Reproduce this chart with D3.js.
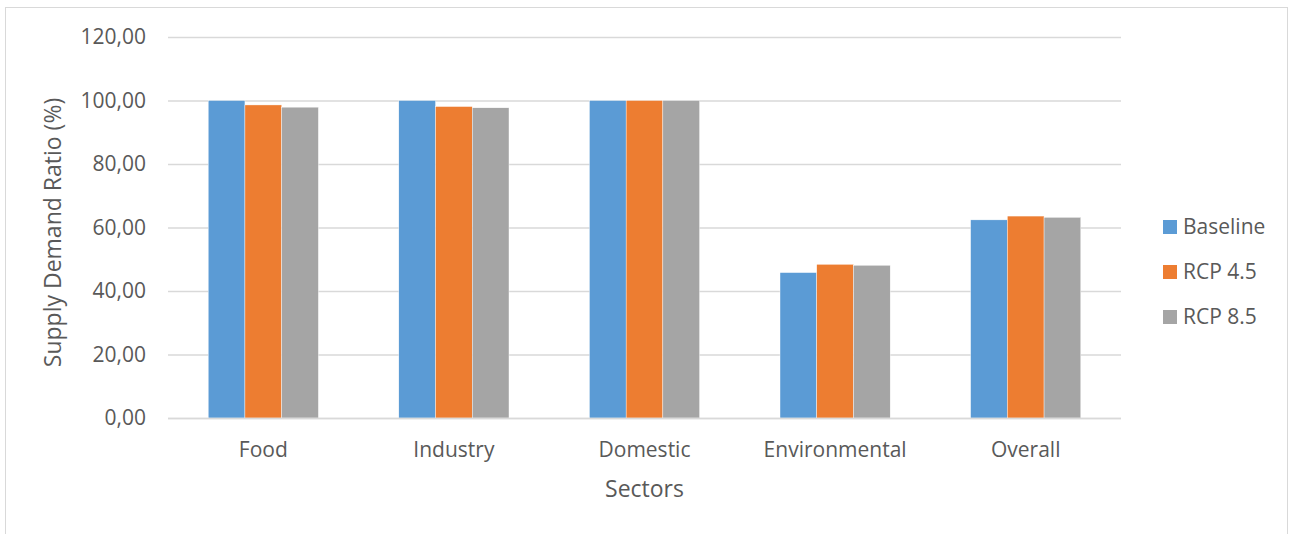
<!DOCTYPE html>
<html>
<head>
<meta charset="utf-8">
<script src="https://cdn.jsdelivr.net/npm/d3@7"></script>
<style>
  html, body { margin: 0; padding: 0; background: #fff; }
  svg { display: block; }
  text { font-family: "Open Sans", "Noto Sans", sans-serif; fill: #595959; }
</style>
</head>
<body>
<svg id="chart" width="1290" height="534"></svg>
<script>
// Supply/demand ratio per sector under three climate scenarios
const categories = ["Food", "Industry", "Domestic", "Environmental", "Overall"];
const seriesNames = ["Baseline", "RCP 4.5", "RCP 8.5"];
const baseline = [100.0, 100.0, 100.0, 45.8, 62.4];
const rcp45    = [98.6, 98.1, 100.0, 48.4, 63.6];
const rcp85    = [97.9, 97.7, 100.0, 48.1, 63.2];
const yTicks = [0, 20, 40, 60, 80, 100, 120];
const colors = ["#5B9BD5", "#ED7D31", "#A5A5A5"];

const seriesValues = [baseline, rcp45, rcp85];

const svg = d3.select("#chart");
const plot = { left: 168, right: 1121, top: 37, bottom: 418 };

// outer chart frame
svg.append("rect")
  .attr("x", 5.5).attr("y", 7.5)
  .attr("width", 1282).attr("height", 600)
  .attr("fill", "none").attr("stroke", "#d9d9d9").attr("stroke-width", 1);

const y = d3.scaleLinear().domain([0, 120]).range([plot.bottom, plot.top]);
const x0 = d3.scaleBand().domain(categories).range([plot.left, plot.right]).padding(0);
const x1 = d3.scaleBand().domain(seriesNames).range([0, x0.bandwidth()])
  .paddingInner(0).paddingOuter(1.095);

// horizontal gridlines + tick labels via axis
const fmt = v => d3.format(".2f")(v).replace(".", ",");
const yAxis = d3.axisLeft(y).tickValues(yTicks).tickFormat(fmt)
  .tickSize(-(plot.right - plot.left)).tickPadding(22);
const gy = svg.append("g").attr("transform", `translate(${plot.left},0)`).call(yAxis);
gy.select(".domain").remove();
gy.selectAll(".tick line").attr("stroke", "#d9d9d9").attr("stroke-width", 1.3);
gy.selectAll(".tick text").attr("font-size", 21).attr("fill", "#595959")
  .style("font-family", "'Open Sans', sans-serif");

// bars
const groups = svg.append("g").selectAll("g")
  .data(categories)
  .join("g")
  .attr("transform", d => `translate(${x0(d)},0)`);

groups.selectAll("rect")
  .data((c, ci) => seriesNames.map((s, si) => ({ s, si, v: seriesValues[si][ci] })))
  .join("rect")
  .attr("x", d => x1(d.s))
  .attr("width", x1.bandwidth())
  .attr("y", d => y(d.v))
  .attr("height", d => y(0) - y(d.v))
  .attr("fill", d => colors[d.si])
  .attr("stroke", "#ffffff").attr("stroke-width", 0.4);

// baseline axis line
svg.append("line")
  .attr("x1", plot.left).attr("x2", plot.right)
  .attr("y1", y(0) + 0.5).attr("y2", y(0) + 0.5)
  .attr("stroke", "#d9d9d9").attr("stroke-width", 1.5);

// category labels
const xAxis = d3.axisBottom(x0).tickSize(0).tickPadding(24);
const gx = svg.append("g").attr("transform", `translate(0,${plot.bottom})`).call(xAxis);
gx.select(".domain").remove();
gx.selectAll(".tick text").attr("font-size", 21).attr("fill", "#595959")
  .style("font-family", "'Open Sans', sans-serif");

// axis titles
svg.append("text")
  .attr("x", (plot.left + plot.right) / 2).attr("y", 497)
  .attr("text-anchor", "middle").attr("font-size", 23)
  .text("Sectors");

svg.append("text")
  .attr("transform", `translate(61,${(plot.top + plot.bottom) / 2 + 5}) rotate(-90)`)
  .attr("text-anchor", "middle").attr("font-size", 23)
  .text("Supply Demand Ratio (%)");

// legend
const legend = svg.append("g").attr("transform", "translate(1163,220)");
const li = legend.selectAll("g").data(seriesNames).join("g")
  .attr("transform", (d, i) => `translate(0,${i * 45})`);
li.append("rect").attr("width", 14).attr("height", 14)
  .attr("fill", (d, i) => colors[i]);
li.append("text").attr("x", 20).attr("y", 14).attr("font-size", 21).text(d => d);
</script>
</body>
</html>
